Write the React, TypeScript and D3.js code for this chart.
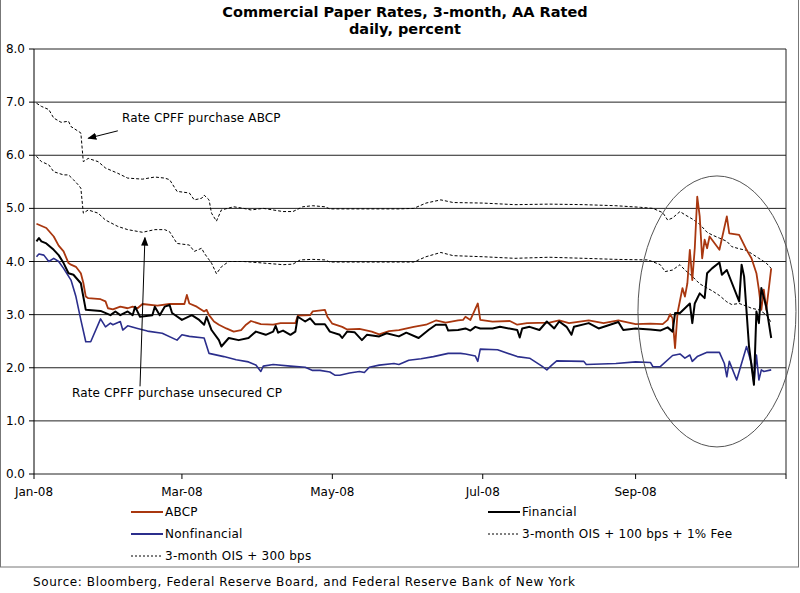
import React from 'react';
import * as d3 from 'd3';

// ---- data, dates are MM/DD in 2008 ----
const abcp: [string, number][] = [
  ['01/02', 4.71], ['01/06', 4.63], ['01/09', 4.47], ['01/11', 4.30], ['01/13', 4.19], ['01/15', 3.97],
  ['01/16', 3.94], ['01/18', 3.90], ['01/20', 3.78], ['01/21', 3.60], ['01/22', 3.34], ['01/23', 3.31],
  ['01/28', 3.29], ['01/30', 3.25], ['01/31', 3.12], ['02/02', 3.10], ['02/05', 3.15], ['02/08', 3.12],
  ['02/10', 3.15], ['02/12', 3.12], ['02/14', 3.20], ['02/20', 3.17], ['02/25', 3.20], ['03/02', 3.20],
  ['03/03', 3.37], ['03/04', 3.21], ['03/07', 3.15], ['03/10', 3.06], ['03/11', 3.09], ['03/12', 2.99],
  ['03/14', 2.87], ['03/16', 2.81], ['03/19', 2.74], ['03/22', 2.68], ['03/25', 2.71], ['03/27', 2.81],
  ['03/29', 2.88], ['04/02', 2.82], ['04/07', 2.81], ['04/10', 2.84], ['04/16', 2.84], ['04/17', 2.98],
  ['04/22', 2.99], ['04/23', 3.06], ['04/28', 3.09], ['04/29', 2.96], ['05/01', 2.83], ['05/05', 2.77],
  ['05/07', 2.72], ['05/12', 2.73], ['05/17', 2.68], ['05/20', 2.63], ['05/24', 2.69], ['05/28', 2.71],
  ['06/03', 2.77], ['06/08', 2.81], ['06/12', 2.89], ['06/16', 2.85], ['06/21', 2.89], ['06/23', 2.90],
  ['06/24', 2.96], ['06/26', 2.90], ['06/29', 3.21], ['06/30', 2.90], ['07/05', 2.87], ['07/12', 2.88],
  ['07/15', 2.81], ['07/19', 2.84], ['07/28', 2.85], ['08/01', 2.89], ['08/05', 2.84], ['08/13', 2.89],
  ['08/19', 2.84], ['08/25', 2.89], ['09/01', 2.82], ['09/07', 2.83], ['09/12', 2.82], ['09/14', 2.90],
  ['09/15', 3.01], ['09/16', 2.93], ['09/17', 2.37], ['09/18', 3.03], ['09/20', 3.50], ['09/21', 3.34],
  ['09/22', 3.59], ['09/23', 4.22], ['09/24', 3.65], ['09/25', 4.25], ['09/26', 5.22], ['09/27', 4.85],
  ['09/28', 4.06], ['09/29', 4.41], ['09/30', 4.25], ['10/01', 4.47], ['10/05', 4.22], ['10/08', 4.85],
  ['10/09', 4.53], ['10/13', 4.50], ['10/16', 4.22], ['10/18', 4.06], ['10/20', 3.78], ['10/21', 3.47],
  ['10/22', 3.09], ['10/23', 3.47], ['10/24', 3.09], ['10/26', 3.87],
];

const financial: [string, number][] = [
  ['01/02', 4.38], ['01/03', 4.44], ['01/04', 4.38], ['01/06', 4.34], ['01/09', 4.22], ['01/11', 4.12],
  ['01/13', 3.97], ['01/15', 3.78], ['01/17', 3.75], ['01/20', 3.59], ['01/21', 3.34], ['01/22', 3.09],
  ['01/28', 3.07], ['02/01', 2.99], ['02/03', 3.06], ['02/05', 2.99], ['02/08', 3.06], ['02/10', 2.99],
  ['02/11', 3.15], ['02/13', 2.96], ['02/18', 2.99], ['02/19', 3.15], ['02/21', 2.99], ['02/23', 3.15],
  ['02/25', 3.18], ['02/26', 3.03], ['03/01', 2.90], ['03/05', 2.99], ['03/08', 2.90], ['03/10', 2.81],
  ['03/11', 2.96], ['03/13', 2.71], ['03/16', 2.52], ['03/17', 2.40], ['03/20', 2.56], ['03/24', 2.52],
  ['03/28', 2.56], ['03/31', 2.68], ['04/04', 2.62], ['04/07', 2.68], ['04/08', 2.79], ['04/09', 2.66],
  ['04/11', 2.70], ['04/14', 2.62], ['04/16', 2.68], ['04/17', 2.96], ['04/20', 2.87], ['04/22', 2.93],
  ['04/24', 2.82], ['04/28', 2.82], ['04/30', 2.68], ['05/04', 2.62], ['05/05', 2.56], ['05/07', 2.68],
  ['05/10', 2.67], ['05/13', 2.52], ['05/15', 2.62], ['05/20', 2.59], ['05/23', 2.65], ['05/28', 2.59],
  ['05/31', 2.66], ['06/05', 2.56], ['06/09', 2.71], ['06/12', 2.81], ['06/16', 2.81], ['06/17', 2.70],
  ['06/21', 2.71], ['06/24', 2.74], ['06/26', 2.70], ['06/28', 2.77], ['06/30', 2.74], ['07/05', 2.74],
  ['07/08', 2.77], ['07/15', 2.71], ['07/16', 2.57], ['07/17', 2.74], ['07/20', 2.77], ['07/24', 2.71],
  ['07/27', 2.87], ['07/30', 2.74], ['08/01', 2.87], ['08/04', 2.77], ['08/06', 2.62], ['08/07', 2.77],
  ['08/13', 2.84], ['08/17', 2.74], ['08/25', 2.86], ['08/27', 2.71], ['09/01', 2.74], ['09/07', 2.72],
  ['09/11', 2.70], ['09/14', 2.76], ['09/16', 2.68], ['09/17', 3.03], ['09/19', 3.03], ['09/23', 3.21],
  ['09/24', 2.84], ['09/25', 3.21], ['09/27', 3.40], ['09/29', 3.31], ['09/30', 3.78], ['10/02', 3.87],
  ['10/05', 3.98], ['10/06', 3.75], ['10/08', 3.84], ['10/13', 3.25], ['10/14', 3.94], ['10/15', 3.72],
  ['10/17', 2.40], ['10/19', 1.68], ['10/20', 3.06], ['10/21', 2.84], ['10/22', 3.50], ['10/24', 3.15],
  ['10/26', 2.56],
];

const nonfinancial: [string, number][] = [
  ['01/02', 4.09], ['01/03', 4.14], ['01/05', 4.12], ['01/07', 4.00], ['01/09', 4.06], ['01/11', 4.00],
  ['01/13', 3.87], ['01/16', 3.65], ['01/18', 3.34], ['01/20', 2.90], ['01/22', 2.49], ['01/24', 2.49],
  ['01/28', 2.92], ['01/30', 2.77], ['02/01', 2.84], ['02/02', 2.81], ['02/05', 2.87], ['02/06', 2.71],
  ['02/08', 2.79], ['02/12', 2.74], ['02/16', 2.69], ['02/22', 2.65], ['02/28', 2.52], ['03/01', 2.62],
  ['03/04', 2.59], ['03/10', 2.56], ['03/12', 2.27], ['03/18', 2.21], ['03/23', 2.15], ['03/28', 2.11],
  ['03/31', 2.05], ['04/02', 1.93], ['04/03', 2.03], ['04/07', 2.06], ['04/14', 2.03], ['04/20', 2.01],
  ['04/23', 1.95], ['04/26', 1.95], ['04/30', 1.92], ['05/02', 1.86], ['05/04', 1.86], ['05/08', 1.90],
  ['05/12', 1.93], ['05/14', 1.91], ['05/16', 2.01], ['05/20', 2.05], ['05/26', 2.08], ['05/28', 2.06],
  ['06/01', 2.14], ['06/06', 2.17], ['06/11', 2.21], ['06/17', 2.27], ['06/22', 2.27], ['06/24', 2.26],
  ['06/28', 2.22], ['06/29', 2.12], ['06/30', 2.35], ['07/07', 2.34], ['07/15', 2.21], ['07/20', 2.18],
  ['07/25', 2.03], ['07/27', 1.96], ['07/29', 2.05], ['07/31', 2.13], ['08/11', 2.12], ['08/12', 2.06],
  ['08/24', 2.08], ['09/01', 2.11], ['09/07', 2.10], ['09/08', 2.02], ['09/11', 2.02], ['09/16', 2.23],
  ['09/19', 2.26], ['09/21', 2.18], ['09/23', 2.24], ['09/24', 2.12], ['09/26', 2.21], ['09/30', 2.29],
  ['10/05', 2.29], ['10/07', 2.08], ['10/08', 1.83], ['10/09', 2.12], ['10/12', 1.77], ['10/16', 2.40],
  ['10/18', 2.08], ['10/19', 1.71], ['10/20', 2.24], ['10/21', 1.77], ['10/22', 1.96], ['10/23', 1.93],
  ['10/26', 1.96],
];

const ois300: [string, number][] = [
  ['01/02', 6.98], ['01/04', 6.92], ['01/07', 6.86], ['01/09', 6.70], ['01/12', 6.62], ['01/15', 6.64],
  ['01/16', 6.54], ['01/19', 6.45], ['01/20', 6.42], ['01/21', 5.88], ['01/23', 5.94], ['01/27', 5.88],
  ['01/30', 5.76], ['02/04', 5.66], ['02/08', 5.57], ['02/14', 5.55], ['02/19', 5.59], ['02/23', 5.57],
  ['02/25', 5.54], ['02/28', 5.32], ['03/04', 5.29], ['03/06', 5.16], ['03/09', 5.19], ['03/10', 5.25],
  ['03/12', 5.16], ['03/13', 4.91], ['03/15', 4.76], ['03/17', 4.97], ['03/22', 5.03], ['03/26', 5.00],
  ['03/29', 4.97], ['04/03', 5.00], ['04/07', 4.97], ['04/11', 4.94], ['04/15', 4.94], ['04/19', 5.03],
  ['04/23', 5.05], ['04/28', 5.03], ['04/30', 4.99], ['05/28', 4.99], ['06/03', 5.00], ['06/08', 5.10],
  ['06/14', 5.16], ['06/19', 5.11], ['07/01', 5.10], ['07/14', 5.07], ['07/28', 5.08], ['08/11', 5.07],
  ['08/24', 5.05], ['09/03', 5.02], ['09/08', 5.00], ['09/12', 4.92], ['09/14', 4.78], ['09/16', 4.82],
  ['09/19', 4.94], ['09/21', 4.88], ['09/24', 4.80], ['09/27', 4.70], ['09/30', 4.55], ['10/02', 4.50],
  ['10/05', 4.44], ['10/08', 4.38], ['10/10', 4.28], ['10/13', 4.24], ['10/16', 4.21], ['10/18', 4.15],
  ['10/21', 4.06], ['10/24', 3.97], ['10/26', 3.87],
];

const ois100fee: [string, number][] = [
  ['01/02', 5.98], ['01/04', 5.88], ['01/07', 5.82], ['01/09', 5.69], ['01/13', 5.63], ['01/15', 5.63],
  ['01/17', 5.54], ['01/19', 5.44], ['01/20', 5.38], ['01/21', 4.91], ['01/23', 4.97], ['01/27', 4.91],
  ['01/30', 4.78], ['02/04', 4.66], ['02/08', 4.60], ['02/14', 4.55], ['02/19', 4.60], ['02/23', 4.60],
  ['02/25', 4.56], ['02/28', 4.34], ['03/04', 4.31], ['03/06', 4.19], ['03/09', 4.25], ['03/10', 4.16],
  ['03/13', 3.97], ['03/15', 3.77], ['03/17', 3.90], ['03/20', 4.00], ['03/26', 4.00], ['03/29', 3.99],
  ['04/11', 3.94], ['04/15', 3.95], ['04/18', 4.03], ['04/23', 4.04], ['04/28', 4.03], ['04/30', 3.99],
  ['05/28', 3.99], ['06/03', 3.99], ['06/08', 4.09], ['06/14', 4.17], ['06/19', 4.11], ['07/01', 4.09],
  ['07/14', 4.06], ['07/28', 4.08], ['08/11', 4.06], ['08/24', 4.04], ['09/06', 4.03], ['09/11', 3.94],
  ['09/13', 3.81], ['09/16', 3.84], ['09/19', 3.94], ['09/21', 3.84], ['09/24', 3.72], ['09/27', 3.58],
  ['09/30', 3.50], ['10/02', 3.45], ['10/05', 3.36], ['10/08', 3.24], ['10/10', 3.19], ['10/13', 3.21],
  ['10/16', 3.16], ['10/18', 3.12], ['10/21', 3.09], ['10/24', 3.00], ['10/26', 2.85],
];

const yTicks = [0, 1, 2, 3, 4, 5, 6, 7, 8];
const xTickDates = ['01/01', '03/01', '05/01', '07/01', '09/01', '11/01'];
const xTickLabels = ['Jan-08', 'Mar-08', 'May-08', 'Jul-08', 'Sep-08', ''];

const titleLines = ['Commercial Paper Rates, 3-month, AA Rated', 'daily, percent'];
const sourceText = 'Source: Bloomberg, Federal Reserve Board, and Federal Reserve Bank of New York';

const parse = d3.timeParse('%m/%d/%Y');
const toDate = (s: string) => parse(s + '/2008') as Date;

export default function App() {
  const W = 800;
  const H = 593;
  const plot = { left: 34, right: 786, top: 49, bottom: 474 };

  const x = d3.scaleTime().domain([toDate('01/01'), toDate('11/01')]).range([plot.left, plot.right]);
  const y = d3.scaleLinear().domain([0, 8]).range([plot.bottom, plot.top]);

  const line = d3
    .line<[string, number]>()
    .x((d) => x(toDate(d[0])))
    .y((d) => y(d[1]));

  const font = '"DejaVu Sans", Verdana, sans-serif';

  const series = [
    { data: ois300, stroke: '#000', width: 1, dash: '3,2' },
    { data: ois100fee, stroke: '#000', width: 1, dash: '3,2' },
    { data: nonfinancial, stroke: '#2B2E8C', width: 1.6, dash: undefined },
    { data: abcp, stroke: '#A9370F', width: 1.8, dash: undefined },
    { data: financial, stroke: '#000', width: 2, dash: undefined },
  ];

  const legend = [
    { label: 'ABCP', stroke: '#A9370F', width: 2, dash: undefined, col: 0, row: 0 },
    { label: 'Financial', stroke: '#000', width: 2, dash: undefined, col: 1, row: 0 },
    { label: 'Nonfinancial', stroke: '#2B2E8C', width: 2, dash: undefined, col: 0, row: 1 },
    { label: '3-month OIS + 100 bps + 1% Fee', stroke: '#000', width: 1, dash: '2,2', col: 1, row: 1 },
    { label: '3-month OIS + 300 bps', stroke: '#000', width: 1, dash: '2,2', col: 0, row: 2 },
  ];
  const legendColX = [131, 488];
  const legendRowY = [512, 534, 556];

  // annotation anchors in data space
  const ann1Tip = { x: x(toDate('01/23')), y: y(6.32) };
  const ann1Tail = { x: x(toDate('02/04')), y: y(6.46) };
  const ann2Tip = { x: x(toDate('02/15')), y: y(4.45) };
  const ann2Tail = { x: x(toDate('02/13')), y: y(1.65) };

  const ell = { cx: x(toDate('10/04')), cy: y(3.06), rx: 79, ry: 135.5 };

  return (
    <svg width={W} height={H} style={{ position: 'absolute', left: 0, top: 0, background: '#fff' }}>
      <defs>
        <marker id="arr" viewBox="0 0 10 10" refX="9" refY="5" markerWidth="9" markerHeight="9" orient="auto" markerUnits="userSpaceOnUse">
          <path d="M0,1 L10,5 L0,9 z" fill="#000" />
        </marker>
      </defs>
      <rect x={0} y={0} width={W} height={H} fill="#fff" />
      {/* outer chart frame */}
      <rect x={0.5} y={-1} width={798} height={568} fill="none" stroke="#777" strokeWidth={1} />

      {/* title */}
      {titleLines.map((t, i) => (
        <text key={i} x={405} y={17 + i * 17} textAnchor="middle" fontFamily={font} fontWeight="bold" fontSize={14.5} fill="#000">
          {t}
        </text>
      ))}

      {/* gridlines */}
      {yTicks.map((t) => (
        <line key={t} x1={plot.left} x2={plot.right} y1={y(t)} y2={y(t)} stroke="#222" strokeWidth={1} />
      ))}
      {/* plot border right */}
      <line x1={plot.right} x2={plot.right} y1={plot.top} y2={plot.bottom} stroke="#222" strokeWidth={1} />
      {/* y axis */}
      <line x1={plot.left} x2={plot.left} y1={plot.top} y2={plot.bottom} stroke="#000" strokeWidth={1} />
      {yTicks.map((t) => (
        <g key={'yt' + t}>
          <line x1={plot.left - 5} x2={plot.left} y1={y(t)} y2={y(t)} stroke="#000" />
          <text x={25} y={y(t) + 4} textAnchor="end" fontFamily={font} fontSize={12} fill="#000">
            {d3.format('.1f')(t)}
          </text>
        </g>
      ))}
      {/* x axis */}
      {xTickDates.map((d, i) => (
        <g key={'xt' + d}>
          <line x1={x(toDate(d))} x2={x(toDate(d))} y1={plot.bottom} y2={plot.bottom + 5} stroke="#000" />
          <text x={x(toDate(d))} y={496} textAnchor="middle" fontFamily={font} fontSize={12} fill="#000">
            {xTickLabels[i]}
          </text>
        </g>
      ))}

      {/* series */}
      {series.map((s, i) => (
        <path key={i} d={line(s.data) || ''} fill="none" stroke={s.stroke} strokeWidth={s.width} strokeDasharray={s.dash} strokeLinejoin="round" />
      ))}

      {/* ellipse highlight */}
      <ellipse cx={ell.cx} cy={ell.cy} rx={ell.rx} ry={ell.ry} fill="none" stroke="#555" strokeWidth={1} />

      {/* annotations */}
      <line x1={ann1Tail.x} y1={ann1Tail.y} x2={ann1Tip.x} y2={ann1Tip.y} stroke="#000" strokeWidth={1} markerEnd="url(#arr)" />
      <text x={122} y={122} fontFamily={font} fontSize={12} letterSpacing={0.15} fill="#000">Rate CPFF purchase ABCP</text>
      <line x1={ann2Tail.x} y1={ann2Tail.y} x2={ann2Tip.x} y2={ann2Tip.y} stroke="#000" strokeWidth={1} markerEnd="url(#arr)" />
      <text x={72} y={397} fontFamily={font} fontSize={12} letterSpacing={0.15} fill="#000">Rate CPFF purchase unsecured CP</text>

      {/* legend */}
      {legend.map((l, i) => (
        <g key={'lg' + i}>
          <line x1={legendColX[l.col]} x2={legendColX[l.col] + 32} y1={legendRowY[l.row]} y2={legendRowY[l.row]} stroke={l.stroke} strokeWidth={l.width} strokeDasharray={l.dash} />
          <text x={legendColX[l.col] + 34} y={legendRowY[l.row] + 4} fontFamily={font} fontSize={12} letterSpacing={0.25} fill="#000">
            {l.label}
          </text>
        </g>
      ))}

      {/* source */}
      <text x={33} y={586} fontFamily={font} fontSize={12} letterSpacing={0.6} fill="#000">{sourceText}</text>
    </svg>
  );
}
